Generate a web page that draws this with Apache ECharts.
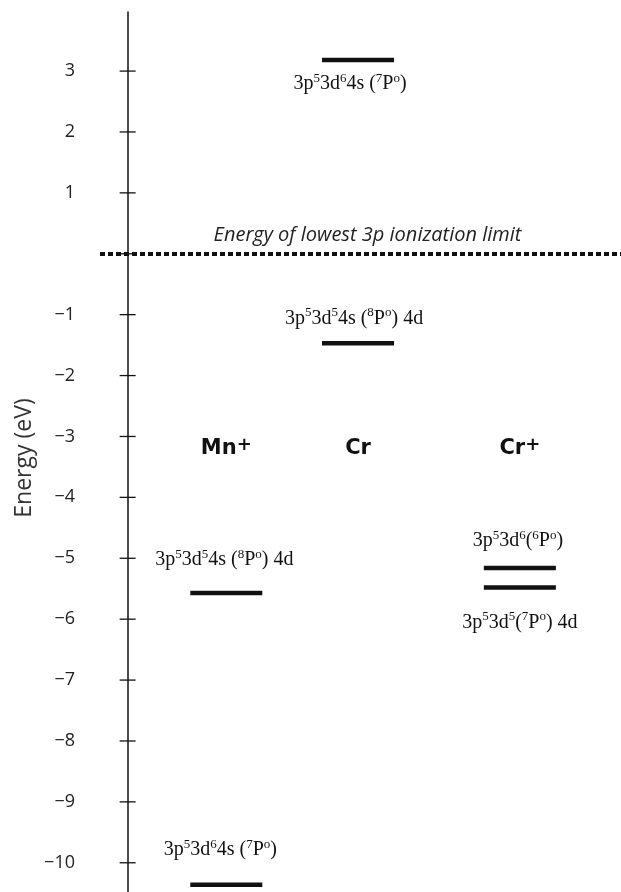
<!DOCTYPE html>
<html>
<head>
<meta charset="utf-8">
<script src="https://cdn.jsdelivr.net/npm/echarts@6/dist/echarts.min.js"></script>
<style>
  html, body { margin: 0; padding: 0; background: #fff; }
  #chart { width: 621px; height: 892px; }
</style>
</head>
<body>
<div id="chart"></div>
<script>
// Species shown as columns, with their horizontal slot on the x scale
const species = ['Mn{p|+}', 'Cr', 'Cr{p|+}'];
const speciesX = [1.0, 2.335, 3.975];

// Core-excited levels: owning species, energy (eV) and configuration
const levelSpecies = [1, 1, 0, 2, 2, 0];
const levelEnergy = [3.18, -1.47, -5.57, -5.16, -5.48, -10.36];
const levelNames = [
  '3p{s|5}3d{s|6}4s ({s|7}P{s|o})',
  '3p{s|5}3d{s|5}4s ({s|8}P{s|o}) 4d',
  '3p{s|5}3d{s|5}4s ({s|8}P{s|o}) 4d',
  '3p{s|5}3d{s|6}({s|6}P{s|o})',
  '3p{s|5}3d{s|5}({s|7}P{s|o}) 4d',
  '3p{s|5}3d{s|6}4s ({s|7}P{s|o})'
];

// Ionization threshold
const limitEnergy = 0;
const limitText = 'Energy of lowest 3p ionization limit';

// Energy axis
const yTicks = [-10, -9, -8, -7, -6, -5, -4, -3, -2, -1, 0, 1, 2, 3];
const yMin = -10.48;
const yMax = 3.97;

// Layout / style settings
const HALF_BAR = 0.365;                          // half width of a level bar in x units
const TICK_HALF = 8;                             // tick half length (px), ticks cross the axis
const LABEL_DX = [-8, -4, -2, -2, 0, -6];         // label shift from bar centre (px)
const LABEL_DY = [24, -25, -33, -27, 35, -35];    // label offset from its bar (px)
const HEADER_ENERGY = -3.2;                       // height of the species names
const SERIF = '"Liberation Serif", "DejaVu Serif", serif';
const SANS = '"Open Sans", Lato, sans-serif';
const BOLD_SANS = '"DejaVu Sans", "Open Sans", sans-serif';

const serifRich = {
  s: { fontFamily: SERIF, fontSize: 13, verticalAlign: 'top', lineHeight: 14, fill: '#111' }
};

const levelData = levelEnergy.map((e, i) => [speciesX[levelSpecies[i]], e]);
const headerData = speciesX.map(x => [x, HEADER_ENERGY]);
const tickData = yTicks.map(v => [0, v]);

const chart = echarts.init(document.getElementById('chart'), null, { renderer: 'canvas' });

chart.setOption({
  animation: false,
  backgroundColor: '#fff',
  grid: { left: 100, right: 0, top: 12, bottom: 0, containLabel: false, outerBoundsMode: 'none' },
  xAxis: { type: 'value', min: -0.28, max: 5.0, show: false },
  yAxis: {
    type: 'value',
    min: yMin,
    max: yMax,
    position: 'left',
    splitLine: { show: false },
    axisLine: { show: true, onZero: true, onZeroAxisIndex: 0, lineStyle: { color: '#111', width: 1.5 } },
    name: 'Energy (eV)',
    nameLocation: 'middle',
    nameGap: 64,
    nameMoveOverlap: false,
    nameTextStyle: { fontFamily: SANS, fontSize: 23, color: '#333', padding: [0, 12, 0, 0] },
    axisTick: { show: false },
    axisLabel: {
      show: true,
      customValues: yTicks.filter(v => v !== 0),
      margin: 25,
      fontFamily: SANS,
      fontSize: 18,
      color: '#222',
      formatter: v => (v < 0 ? '\u2212' + Math.abs(v) : String(v))
    }
  },
  series: [
    {
      // tick marks crossing the energy axis on both sides
      type: 'custom',
      name: 'ticks',
      clip: false,
      silent: true,
      data: tickData,
      renderItem: function (params, api) {
        const p = api.coord([api.value(0), api.value(1)]);
        return {
          type: 'line',
          shape: { x1: p[0] - TICK_HALF, y1: p[1], x2: p[0] + TICK_HALF, y2: p[1] },
          style: { stroke: '#111', lineWidth: 1.3 }
        };
      }
    },
    {
      type: 'custom',
      name: 'levels',
      clip: false,
      data: levelData,
      renderItem: function (params, api) {
        const i = params.dataIndex;
        const x = api.value(0), y = api.value(1);
        const p1 = api.coord([x - HALF_BAR, y]);
        const p2 = api.coord([x + HALF_BAR, y]);
        return {
          type: 'group',
          children: [
            {
              type: 'line',
              shape: { x1: p1[0], y1: p1[1], x2: p2[0], y2: p2[1] },
              style: { stroke: '#111', lineWidth: 4.5, lineCap: 'butt' }
            },
            {
              type: 'text',
              x: (p1[0] + p2[0]) / 2 + LABEL_DX[i],
              y: p1[1] + LABEL_DY[i],
              style: {
                text: levelNames[i],
                fontFamily: SERIF,
                fontSize: 20,
                lineHeight: 24,
                fill: '#111',
                align: 'center',
                verticalAlign: 'middle',
                rich: serifRich
              }
            }
          ]
        };
      },
      markLine: {
        silent: true,
        symbol: 'none',
        lineStyle: { color: '#111', width: 4, type: [5, 3] },
        label: {
          show: true,
          position: 'middle',
          distance: 8,
          padding: [0, 0, 0, 14],
          formatter: limitText,
          fontFamily: SANS,
          fontStyle: 'italic',
          fontSize: 20,
          color: '#222'
        },
        data: [{ yAxis: limitEnergy }]
      }
    },
    {
      type: 'custom',
      name: 'species',
      clip: false,
      data: headerData,
      renderItem: function (params, api) {
        const p = api.coord([api.value(0), api.value(1)]);
        return {
          type: 'text',
          x: p[0],
          y: p[1],
          style: {
            text: species[params.dataIndex],
            fontFamily: BOLD_SANS,
            fontWeight: 'bold',
            fontSize: 21,
            lineHeight: 25,
            fill: '#111',
            align: 'center',
            verticalAlign: 'middle',
            rich: { p: { fontFamily: BOLD_SANS, fontWeight: 'bold', fontSize: 18, verticalAlign: 'top', lineHeight: 17, fill: '#111' } }
          }
        };
      }
    }
  ]
});
</script>
</body>
</html>
